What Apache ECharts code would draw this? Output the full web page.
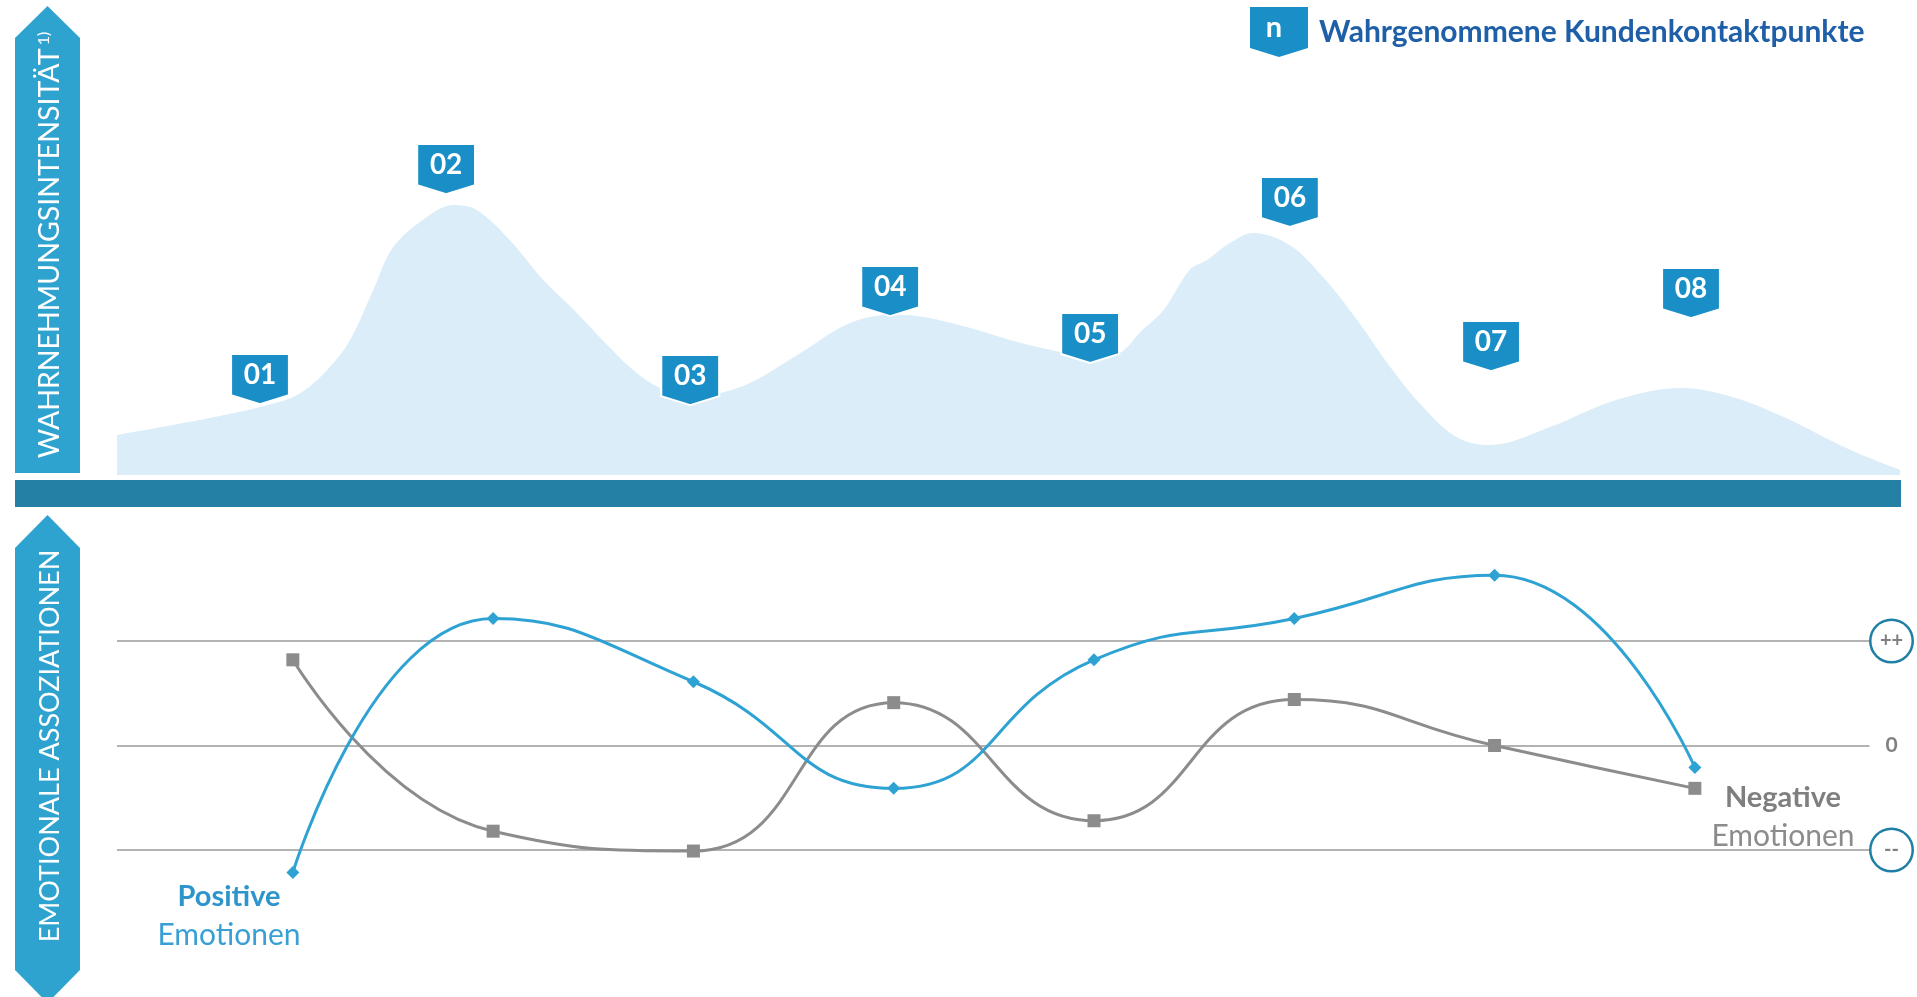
<!DOCTYPE html>
<html>
<head>
<meta charset="utf-8">
<script src="https://cdn.jsdelivr.net/npm/echarts@6/dist/echarts.min.js"></script>
<style>
html,body{margin:0;padding:0;background:#fff;}
#c{width:1917px;height:997px;}
</style>
</head>
<body>
<div id="c"></div>
<script>
// ---- data ----
const touchpoints = ['01','02','03','04','05','06','07','08'];
const badgeX = [0.835, 1.763, 2.98, 3.977, 4.974, 5.97, 6.973, 7.97];
const badgeY = [28.2, 90.0, 27.9, 54.1, 40.3, 80.3, 37.9, 53.5];

const intensityX = [0.122,0.586,0.835,1.02,1.17,1.284,1.40,1.50,1.668,1.80,1.917,2.08,2.246,2.416,2.58,2.695,2.83,2.98,3.13,3.28,3.53,3.777,3.99,4.11,4.36,4.61,4.824,4.97,5.12,5.22,5.34,5.47,5.557,5.67,5.786,5.97,6.135,6.305,6.47,6.634,6.80,6.968,7.267,7.60,7.92,8.18,8.43,8.763,9.012];
const intensityY = [11.8,16.8,20.0,23.5,30.9,39.7,54.4,67.1,75.9,79.4,77.9,69.1,57.4,47.6,37.4,30.9,25.6,23.2,24.1,27.1,35.9,44.7,47.1,46.8,43.5,39.1,36.2,34.7,35.9,41.8,48.5,60.3,63.2,68.2,71.2,67.6,58.2,45.6,31.8,20.0,11.2,8.8,14.1,22.1,25.6,22.9,17.1,7.4,1.5];

const emotionX = [1,2,3,4,5,6,7,8];
const positive = [-1.215, 1.215, 0.61, -0.41, 0.82, 1.215, 1.63, -0.21];
const negative = [0.82, -0.82, -1.01, 0.41, -0.72, 0.44, 0.0, -0.41];
const scaleLabels = {'1':'++','0':'0','-1':'--'};

const legendName = 'Wahrgenommene Kundenkontaktpunkte';
const FONT = 'Lato, "Open Sans", sans-serif';
const badgePath = 'path://M0,0 L58,0 L58,41 L29,50 L0,41 Z';

const chart = echarts.init(document.getElementById('c'), null, {renderer:'canvas'});

const option = {
  backgroundColor:'#fff',
  animation:false,
  textStyle:{fontFamily:FONT},
  legend:{
    data:[{name:legendName, icon:badgePath, itemStyle:{color:'#1a8fc7', opacity:1, borderWidth:0}}],
    left:1245, top:2,
    itemWidth:58, itemHeight:50,
    selectedMode:false,
    textStyle:{fontFamily:FONT, fontSize:30, fontWeight:'bold', color:'#1f5fa8', padding:[0,0,8,6]}
  },
  grid:[
    {left:117, right:16, top:135, bottom:522},
    {left:117, right:45, top:641, bottom:147}
  ],
  xAxis:[
    {gridIndex:0, type:'value', min:0.122, max:9.017, show:false},
    {gridIndex:1, type:'value', min:0.122, max:8.872, show:false}
  ],
  yAxis:[
    {gridIndex:0, type:'value', min:0, max:100, show:false},
    {gridIndex:1, type:'value', min:-1, max:1, interval:1, position:'right',
     axisLine:{show:false}, axisTick:{show:false},
     splitLine:{show:true, lineStyle:{color:'#9a9a9a', width:1.5}},
     axisLabel:{
       margin:22, align:'center', verticalAlign:'middle',
       formatter:function(v){ const t = scaleLabels[String(v)]; return v===0 ? '{z|'+t+'}' : '{c|'+t+'}'; },
       rich:{
         c:{width:40, height:40, lineHeight:40, borderRadius:22, borderWidth:2.5, borderColor:'#1f7fa5', align:'center', color:'#808080', fontWeight:'bold', fontSize:20, fontFamily:FONT, backgroundColor:'#fff'},
         z:{color:'#808080', fontWeight:'bold', fontSize:21, fontFamily:FONT, align:'center'}
       }
     }}
  ],
  series:[
    {
      name:'Wahrnehmungsintensität', type:'line', xAxisIndex:0, yAxisIndex:0,
      data:intensityX.map((x,i)=>[x,intensityY[i]]),
      smooth:0.35, symbol:'none', lineStyle:{width:0},
      areaStyle:{color:'#dbedf8', opacity:1}, z:1, silent:true
    },
    {
      name:legendName, type:'scatter', xAxisIndex:0, yAxisIndex:0,
      data:badgeX.map((x,i)=>({name:touchpoints[i], value:[x,badgeY[i]]})),
      symbol:badgePath, symbolSize:[58,50], clip:false,
      itemStyle:{color:'#1a8fc7', opacity:1, borderColor:'#ffffff', borderWidth:2},
      label:{show:true, position:'inside', offset:[0,-4], formatter:'{b}', color:'#fff', fontSize:28, fontWeight:'bold', fontFamily:FONT},
      z:5
    },
    {
      name:'Positive Emotionen', type:'line', xAxisIndex:1, yAxisIndex:1,
      data:emotionX.map((x,i)=>[x,positive[i]]),
      smooth:0.5, clip:false,
      symbol:'diamond', symbolSize:13,
      lineStyle:{color:'#2ea3d3', width:3},
      itemStyle:{color:'#2ea3d3'}, z:4
    },
    {
      name:'Negative Emotionen', type:'line', xAxisIndex:1, yAxisIndex:1,
      data:emotionX.map((x,i)=>[x,negative[i]]),
      smooth:0.5, clip:false,
      symbol:'rect', symbolSize:13,
      lineStyle:{color:'#8c8c8c', width:3},
      itemStyle:{color:'#8c8c8c'}, z:3
    }
  ],
  graphic:[
    {type:'polygon', shape:{points:[[15,38],[47.5,6],[80,38],[80,473],[15,473]]}, style:{fill:'#2ea3d0'}, z:0},
    {type:'polygon', shape:{points:[[15,548],[47.5,515],[80,548],[80,970],[47.5,1003],[15,970]]}, style:{fill:'#2ea3d0'}, z:0},
    {type:'rect', shape:{x:15, y:480, width:1886, height:27}, style:{fill:'#2480a4'}, z:0},
    {type:'text', x:50, y:245, rotation:Math.PI/2, z:10,
     style:{text:'{a|WAHRNEHMUNGSINTENSITÄT} {s|1)}', align:'center', verticalAlign:'middle',
       rich:{a:{fontSize:28.5, fill:'#fff', fontFamily:FONT}, s:{fontSize:16, fill:'#fff', fontFamily:FONT, verticalAlign:'top', padding:[0,0,12,0]}}}},
    {type:'text', x:50, y:746, rotation:Math.PI/2, z:10,
     style:{text:'EMOTIONALE ASSOZIATIONEN', fill:'#fff', font:'27px '+FONT, align:'center', verticalAlign:'middle'}},
    {type:'text', x:1274, y:28, z:100,
     style:{text:'n', fill:'#fff', font:'bold 29px '+FONT, align:'center', verticalAlign:'middle'}},
    {type:'text', x:229, y:897, z:10,
     style:{text:'Positive', fill:'#2d95cb', font:'bold 29px '+FONT, align:'center', verticalAlign:'middle'}},
    {type:'text', x:229, y:935, z:10,
     style:{text:'Emotionen', fill:'#3a9fd5', font:'30px '+FONT, align:'center', verticalAlign:'middle'}},
    {type:'text', x:1783, y:798, z:10,
     style:{text:'Negative', fill:'#7f7f7f', font:'bold 29px '+FONT, align:'center', verticalAlign:'middle'}},
    {type:'text', x:1783, y:836, z:10,
     style:{text:'Emotionen', fill:'#8c8c8c', font:'30px '+FONT, align:'center', verticalAlign:'middle'}}
  ]
};
chart.setOption(option);
</script>
</body>
</html>
